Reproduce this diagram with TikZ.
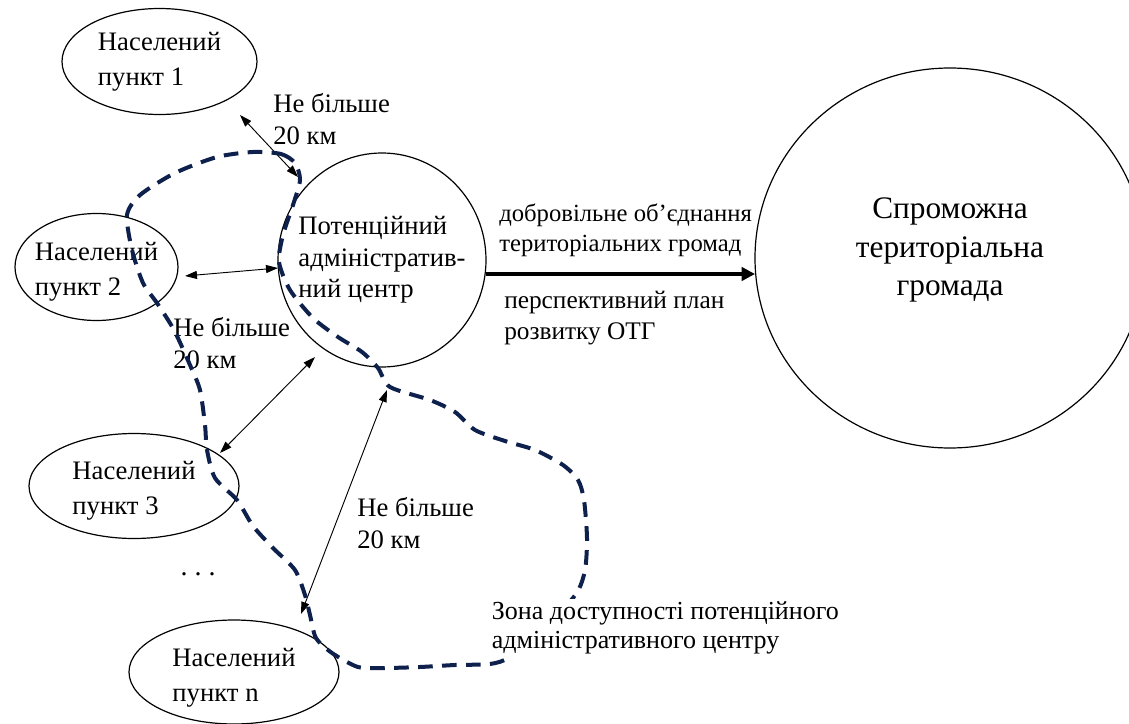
\documentclass[tikz,border=0pt]{standalone}
\usepackage{fontspec}
\setmainfont{Liberation Serif}
\usetikzlibrary{shapes.geometric,arrows.meta}
\definecolor{zone}{RGB}{14,32,76}
\begin{document}
\begin{tikzpicture}[x=0.75pt,y=-0.75pt,
  place/.style={draw, ellipse, line width=0.9pt, inner ysep=0pt, inner xsep=-25pt, align=left, font=\fontsize{20}{26.5}\selectfont},
  dist/.style={align=left, inner sep=0pt, anchor=west, font=\fontsize{20}{24.5}\selectfont},
  twoway/.style={line width=0.7pt, {Triangle[length=9pt,width=6pt]}-{Triangle[length=9pt,width=6pt]}},
  mainarrow/.style={line width=2.4pt, -{Triangle[length=10pt,width=10pt]}},
  zoneline/.style={draw=zone, line width=3pt, dash pattern=on 11pt off 7pt},
  note/.style={align=left, inner sep=0pt, anchor=west, font=\fontsize{18.5}{22.5}\selectfont}
]
\useasboundingbox (0,0) rectangle (1129,724);
\clip (0,0) rectangle (1129,724);

% settlements
\node[place, minimum width=146.25pt, minimum height=79.5pt] (p1) at (159.5,61.5) {Населений\\пункт 1};
\node[place, text height=47pt, minimum width=122.25pt, minimum height=80.25pt] (p2) at (96.5,267) {Населений\\пункт 2};
\node[place, text height=47pt, minimum width=157.5pt, minimum height=78.75pt] (p3) at (134,486) {Населений\\пункт 3};
\node[place, text height=49pt, minimum width=157.5pt, minimum height=78pt] (pn) at (234,672) {Населений\\пункт n};
\node[font=\fontsize{21}{24}\selectfont, inner sep=0pt] (dots) at (198,574) {.\ .\ .};

% centre and community
\node[place, minimum width=156pt, minimum height=160.5pt, font=\fontsize{20}{23.5}\selectfont] (c) at (382,260) {Потенційний\\адміністратив-\\ний центр};
\node[draw, ellipse, line width=0.9pt, inner sep=0pt, text depth=17pt, minimum width=292.5pt, minimum height=285pt, align=center, font=\fontsize{23.5}{29}\selectfont] (big) at (950,258) {Спроможна\\територіальна\\громада};

% distance arrows
\coordinate (a1s) at (240,115); \coordinate (a1e) at (298,177);
\coordinate (a2s) at (185,276); \coordinate (a2e) at (278,268);
\coordinate (a3s) at (315,357); \coordinate (a3e) at (220,453);
\coordinate (a4s) at (387,390); \coordinate (a4e) at (301,614);
\draw[twoway] (a1s) -- (a1e);
\draw[twoway] (a2s) -- (a2e);
\draw[twoway] (a3s) -- (a3e);
\draw[twoway] (a4s) -- (a4e);

\node[dist] (d1) at (273,119) {Не більше\\20 км};
\node[dist] (d2) at (173,343) {Не більше\\20 км};
\node[dist] (d3) at (357,523) {Не більше\\20 км};

% main arrow
\coordinate (m1) at (486,274); \coordinate (m2) at (755,274);
\draw[mainarrow] (m1) -- (m2);
\node[note] (n1) at (499,230) {добровільне об’єднання\\територіальних громад};
\node[note, font=\fontsize{19}{23}\selectfont] (n2) at (504,318) {перспективний план\\розвитку ОТГ};

% accessibility zone
\draw[zoneline] plot[smooth cycle, tension=0.45] coordinates {
 (253,152) (281,154) (295,163) (300,180) (293,205) (283,235) (279,262) (290,290)
 (313,318) (338,337) (362,352) (378,368) (390,387) (430,400) (455,412) (475,430)
 (505,441) (535,450) (563,465) (578,480) (584,500) (587,538) (585,570) (576,594)
 (545,628) (510,657) (490,664) (455,665) (420,667) (385,668) (358,667) (332,653)
 (316,638) (310,615) (305,595) (295,570) (273,548) (253,526) (237,500) (215,478)
 (207,450) (205,425) (200,390) (190,365) (174,330) (157,303) (143,283) (132,250)
 (127,215) (140,195) (175,173) (217,157)};

\node[note, fill=white, inner sep=2pt, font=\fontsize{19.5}{22}\selectfont] (z) at (489,628) {Зона доступності потенційного\\адміністративного центру};
\end{tikzpicture}
\end{document}
